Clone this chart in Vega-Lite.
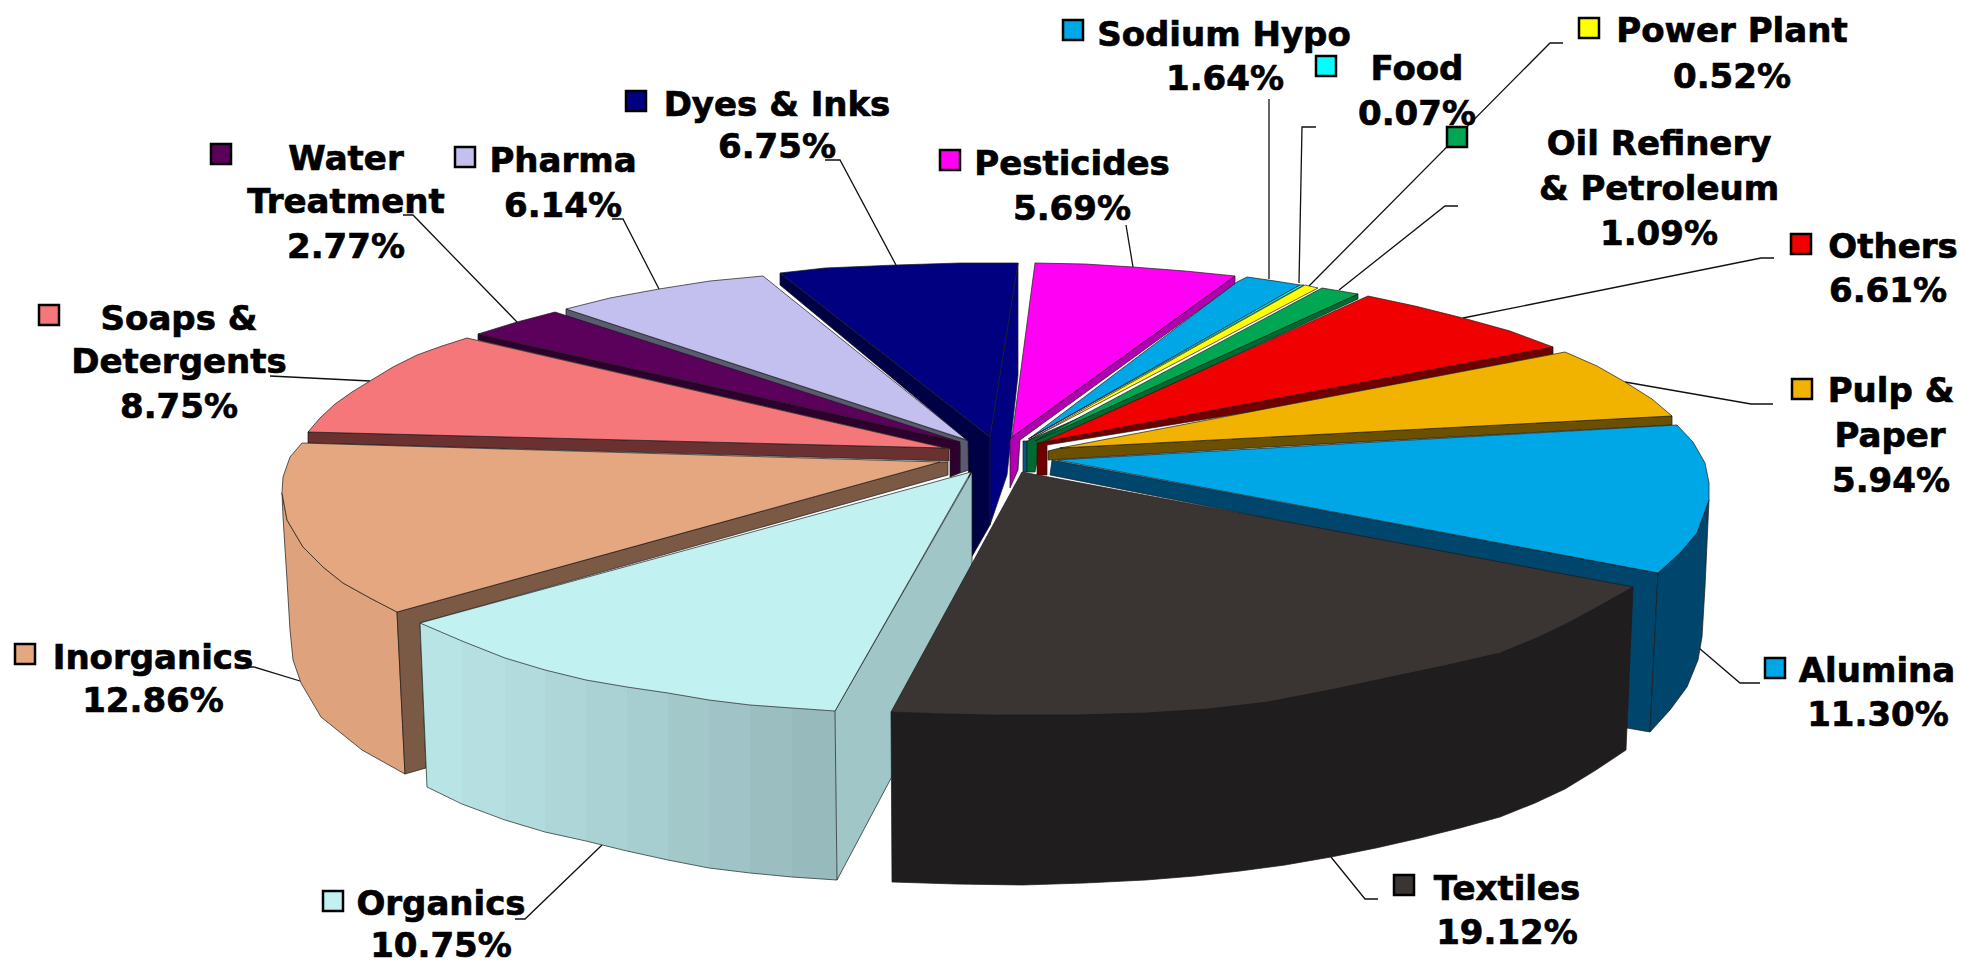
{"$schema":"https://vega.github.io/schema/vega-lite/v6.json","width":1961,"height":965,"padding":0,"autosize":"none","background":"white","view":{"stroke":null},
"datasets":{
"back":[
{"part":"Pharma wall","i":1,"x":566,"y":309},{"part":"Pharma wall","i":2,"x":566,"y":316},{"part":"Pharma wall","i":3,"x":960,"y":445},{"part":"Pharma wall","i":4,"x":960,"y":473},{"part":"Pharma wall","i":5,"x":969,"y":470},{"part":"Pharma wall","i":6,"x":969,"y":441},
{"part":"Pharma top","i":1,"x":566,"y":309},{"part":"Pharma top","i":2,"x":610,"y":298},{"part":"Pharma top","i":3,"x":659,"y":289},{"part":"Pharma top","i":4,"x":710,"y":281},{"part":"Pharma top","i":5,"x":763,"y":276},{"part":"Pharma top","i":6,"x":967,"y":440},
{"part":"Water wall","i":1,"x":478,"y":334},{"part":"Water wall","i":2,"x":478,"y":340},{"part":"Water wall","i":3,"x":950,"y":449},{"part":"Water wall","i":4,"x":950,"y":477},{"part":"Water wall","i":5,"x":960,"y":473},{"part":"Water wall","i":6,"x":960,"y":442},
{"part":"Water top","i":1,"x":478,"y":334},{"part":"Water top","i":2,"x":517,"y":322},{"part":"Water top","i":3,"x":555,"y":312},{"part":"Water top","i":4,"x":960,"y":442},
{"part":"Soaps wall","i":1,"x":308,"y":432},{"part":"Soaps wall","i":2,"x":308,"y":443},{"part":"Soaps wall","i":3,"x":949,"y":461},{"part":"Soaps wall","i":4,"x":949,"y":448},
{"part":"Soaps top","i":1,"x":308,"y":432},{"part":"Soaps top","i":2,"x":320,"y":418},{"part":"Soaps top","i":3,"x":335,"y":404},{"part":"Soaps top","i":4,"x":352,"y":392},{"part":"Soaps top","i":5,"x":370,"y":381},{"part":"Soaps top","i":6,"x":393,"y":367},{"part":"Soaps top","i":7,"x":417,"y":355},{"part":"Soaps top","i":8,"x":442,"y":346},{"part":"Soaps top","i":9,"x":467,"y":338},{"part":"Soaps top","i":10,"x":945,"y":448},
{"part":"Dyes left wall","i":1,"x":780,"y":273},{"part":"Dyes left wall","i":2,"x":780,"y":285},{"part":"Dyes left wall","i":3,"x":968,"y":441},{"part":"Dyes left wall","i":4,"x":970,"y":560},{"part":"Dyes left wall","i":5,"x":990,"y":525},{"part":"Dyes left wall","i":6,"x":990,"y":437},
{"part":"Dyes right wall","i":1,"x":1018,"y":263},{"part":"Dyes right wall","i":2,"x":990,"y":437},{"part":"Dyes right wall","i":3,"x":990,"y":525},{"part":"Dyes right wall","i":4,"x":1007,"y":475},{"part":"Dyes right wall","i":5,"x":1018,"y":375},
{"part":"Dyes top","i":1,"x":780,"y":273},{"part":"Dyes top","i":2,"x":825,"y":268},{"part":"Dyes top","i":3,"x":896,"y":265},{"part":"Dyes top","i":4,"x":960,"y":263},{"part":"Dyes top","i":5,"x":1018,"y":263},{"part":"Dyes top","i":6,"x":990,"y":437},
{"part":"Pesticides wall","i":1,"x":1235,"y":276},{"part":"Pesticides wall","i":2,"x":1235,"y":284},{"part":"Pesticides wall","i":3,"x":1020,"y":440},{"part":"Pesticides wall","i":4,"x":1018,"y":470},{"part":"Pesticides wall","i":5,"x":1010,"y":488},{"part":"Pesticides wall","i":6,"x":1010,"y":440},{"part":"Pesticides wall","i":7,"x":1012,"y":437},
{"part":"Pesticides top","i":1,"x":1035,"y":263},{"part":"Pesticides top","i":2,"x":1085,"y":264},{"part":"Pesticides top","i":3,"x":1133,"y":267},{"part":"Pesticides top","i":4,"x":1185,"y":271},{"part":"Pesticides top","i":5,"x":1235,"y":276},{"part":"Pesticides top","i":6,"x":1012,"y":437},
{"part":"Sodium wall","i":1,"x":1023,"y":441},{"part":"Sodium wall","i":2,"x":1023,"y":472},{"part":"Sodium wall","i":3,"x":1027,"y":472},{"part":"Sodium wall","i":4,"x":1027,"y":441},
{"part":"Sodium top","i":1,"x":1237,"y":282},{"part":"Sodium top","i":2,"x":1247,"y":277},{"part":"Sodium top","i":3,"x":1275,"y":281},{"part":"Sodium top","i":4,"x":1300,"y":285},{"part":"Sodium top","i":5,"x":1030,"y":438},
{"part":"Food top","i":1,"x":1300,"y":285},{"part":"Food top","i":2,"x":1304,"y":285},{"part":"Food top","i":3,"x":1028,"y":439},
{"part":"Power top","i":1,"x":1305,"y":285},{"part":"Power top","i":2,"x":1318,"y":288},{"part":"Power top","i":3,"x":1029,"y":440},
{"part":"Oil wall","i":1,"x":1358,"y":294},{"part":"Oil wall","i":2,"x":1358,"y":299},{"part":"Oil wall","i":3,"x":1040,"y":445},{"part":"Oil wall","i":4,"x":1035,"y":472},{"part":"Oil wall","i":5,"x":1027,"y":472},{"part":"Oil wall","i":6,"x":1027,"y":441},
{"part":"Oil top","i":1,"x":1322,"y":288},{"part":"Oil top","i":2,"x":1340,"y":291},{"part":"Oil top","i":3,"x":1358,"y":294},{"part":"Oil top","i":4,"x":1035,"y":441},
{"part":"Others wall","i":1,"x":1553,"y":347},{"part":"Others wall","i":2,"x":1553,"y":354},{"part":"Others wall","i":3,"x":1250,"y":412},{"part":"Others wall","i":4,"x":1047,"y":445},{"part":"Others wall","i":5,"x":1047,"y":475},{"part":"Others wall","i":6,"x":1037,"y":475},{"part":"Others wall","i":7,"x":1037,"y":443},
{"part":"Others top","i":1,"x":1368,"y":296},{"part":"Others top","i":2,"x":1415,"y":306},{"part":"Others top","i":3,"x":1463,"y":318},{"part":"Others top","i":4,"x":1510,"y":331},{"part":"Others top","i":5,"x":1553,"y":347},{"part":"Others top","i":6,"x":1043,"y":442},
{"part":"Pulp wall","i":1,"x":1672,"y":416},{"part":"Pulp wall","i":2,"x":1672,"y":425},{"part":"Pulp wall","i":3,"x":1250,"y":448},{"part":"Pulp wall","i":4,"x":1048,"y":460},{"part":"Pulp wall","i":5,"x":1048,"y":451},{"part":"Pulp wall","i":6,"x":1060,"y":448},
{"part":"Pulp top","i":1,"x":1565,"y":352},{"part":"Pulp top","i":2,"x":1597,"y":366},{"part":"Pulp top","i":3,"x":1625,"y":382},{"part":"Pulp top","i":4,"x":1652,"y":399},{"part":"Pulp top","i":5,"x":1672,"y":416},{"part":"Pulp top","i":6,"x":1060,"y":448},
{"part":"Inorganics wall","i":1,"x":282,"y":493},{"part":"Inorganics wall","i":2,"x":283,"y":517},{"part":"Inorganics wall","i":3,"x":287,"y":580},{"part":"Inorganics wall","i":4,"x":290,"y":630},{"part":"Inorganics wall","i":5,"x":293,"y":660},{"part":"Inorganics wall","i":6,"x":301,"y":683},{"part":"Inorganics wall","i":7,"x":321,"y":717},{"part":"Inorganics wall","i":8,"x":362,"y":750},{"part":"Inorganics wall","i":9,"x":405,"y":774},{"part":"Inorganics wall","i":10,"x":397,"y":612},{"part":"Inorganics wall","i":11,"x":370,"y":598},{"part":"Inorganics wall","i":12,"x":343,"y":583},{"part":"Inorganics wall","i":13,"x":323,"y":567},{"part":"Inorganics wall","i":14,"x":303,"y":547},{"part":"Inorganics wall","i":15,"x":287,"y":520},
{"part":"Inorganics side","i":1,"x":397,"y":612},{"part":"Inorganics side","i":2,"x":405,"y":774},{"part":"Inorganics side","i":3,"x":426,"y":768},{"part":"Inorganics side","i":4,"x":420,"y":623},{"part":"Inorganics side","i":5,"x":948,"y":475},{"part":"Inorganics side","i":6,"x":948,"y":462},{"part":"Inorganics side","i":7,"x":940,"y":462},
{"part":"Inorganics top","i":1,"x":302,"y":443},{"part":"Inorganics top","i":2,"x":290,"y":457},{"part":"Inorganics top","i":3,"x":283,"y":477},{"part":"Inorganics top","i":4,"x":282,"y":493},{"part":"Inorganics top","i":5,"x":287,"y":520},{"part":"Inorganics top","i":6,"x":303,"y":547},{"part":"Inorganics top","i":7,"x":323,"y":567},{"part":"Inorganics top","i":8,"x":343,"y":583},{"part":"Inorganics top","i":9,"x":370,"y":598},{"part":"Inorganics top","i":10,"x":397,"y":612},{"part":"Inorganics top","i":11,"x":940,"y":462}
],
"strips":[
{"part":"Organics wall 1","i":1,"x":420,"y":623},{"part":"Organics wall 1","i":2,"x":463,"y":641},{"part":"Organics wall 1","i":3,"x":463,"y":804},{"part":"Organics wall 1","i":4,"x":427,"y":787},
{"part":"Organics wall 2","i":1,"x":462,"y":641},{"part":"Organics wall 2","i":2,"x":506,"y":658},{"part":"Organics wall 2","i":3,"x":506,"y":820},{"part":"Organics wall 2","i":4,"x":462,"y":804},
{"part":"Organics wall 3","i":1,"x":505,"y":658},{"part":"Organics wall 3","i":2,"x":546,"y":670},{"part":"Organics wall 3","i":3,"x":546,"y":832},{"part":"Organics wall 3","i":4,"x":505,"y":820},
{"part":"Organics wall 4","i":1,"x":545,"y":670},{"part":"Organics wall 4","i":2,"x":587,"y":680},{"part":"Organics wall 4","i":3,"x":587,"y":841},{"part":"Organics wall 4","i":4,"x":545,"y":832},
{"part":"Organics wall 5","i":1,"x":586,"y":680},{"part":"Organics wall 5","i":2,"x":628,"y":687},{"part":"Organics wall 5","i":3,"x":628,"y":851},{"part":"Organics wall 5","i":4,"x":586,"y":841},
{"part":"Organics wall 6","i":1,"x":627,"y":687},{"part":"Organics wall 6","i":2,"x":669,"y":693},{"part":"Organics wall 6","i":3,"x":669,"y":860},{"part":"Organics wall 6","i":4,"x":627,"y":851},
{"part":"Organics wall 7","i":1,"x":668,"y":693},{"part":"Organics wall 7","i":2,"x":710,"y":700},{"part":"Organics wall 7","i":3,"x":710,"y":868},{"part":"Organics wall 7","i":4,"x":668,"y":860},
{"part":"Organics wall 8","i":1,"x":709,"y":700},{"part":"Organics wall 8","i":2,"x":751,"y":705},{"part":"Organics wall 8","i":3,"x":751,"y":873},{"part":"Organics wall 8","i":4,"x":709,"y":868},
{"part":"Organics wall 9","i":1,"x":750,"y":705},{"part":"Organics wall 9","i":2,"x":793,"y":708},{"part":"Organics wall 9","i":3,"x":793,"y":877},{"part":"Organics wall 9","i":4,"x":750,"y":873},
{"part":"Organics wall 10","i":1,"x":792,"y":708},{"part":"Organics wall 10","i":2,"x":835,"y":711},{"part":"Organics wall 10","i":3,"x":837,"y":880},{"part":"Organics wall 10","i":4,"x":792,"y":877}
],
"front":[
{"part":"Organics side","i":1,"x":835,"y":711},{"part":"Organics side","i":2,"x":837,"y":880},{"part":"Organics side","i":3,"x":972,"y":626},{"part":"Organics side","i":4,"x":972,"y":472},
{"part":"Organics top","i":1,"x":420,"y":623},{"part":"Organics top","i":2,"x":462,"y":641},{"part":"Organics top","i":3,"x":505,"y":658},{"part":"Organics top","i":4,"x":545,"y":670},{"part":"Organics top","i":5,"x":586,"y":680},{"part":"Organics top","i":6,"x":627,"y":687},{"part":"Organics top","i":7,"x":668,"y":693},{"part":"Organics top","i":8,"x":709,"y":700},{"part":"Organics top","i":9,"x":750,"y":705},{"part":"Organics top","i":10,"x":792,"y":708},{"part":"Organics top","i":11,"x":835,"y":711},{"part":"Organics top","i":12,"x":971,"y":472},
{"part":"Alumina inner wall","i":1,"x":1052,"y":460},{"part":"Alumina inner wall","i":2,"x":1050,"y":475},{"part":"Alumina inner wall","i":3,"x":1630,"y":590},{"part":"Alumina inner wall","i":4,"x":1627,"y":728},{"part":"Alumina inner wall","i":5,"x":1650,"y":732},{"part":"Alumina inner wall","i":6,"x":1658,"y":573},
{"part":"Alumina outer wall","i":1,"x":1658,"y":573},{"part":"Alumina outer wall","i":2,"x":1650,"y":732},{"part":"Alumina outer wall","i":3,"x":1670,"y":710},{"part":"Alumina outer wall","i":4,"x":1687,"y":687},{"part":"Alumina outer wall","i":5,"x":1698,"y":660},{"part":"Alumina outer wall","i":6,"x":1702,"y":637},{"part":"Alumina outer wall","i":7,"x":1705,"y":587},{"part":"Alumina outer wall","i":8,"x":1709,"y":500},{"part":"Alumina outer wall","i":9,"x":1697,"y":533},{"part":"Alumina outer wall","i":10,"x":1680,"y":553},
{"part":"Alumina top","i":1,"x":1057,"y":460},{"part":"Alumina top","i":2,"x":1677,"y":425},{"part":"Alumina top","i":3,"x":1693,"y":442},{"part":"Alumina top","i":4,"x":1705,"y":463},{"part":"Alumina top","i":5,"x":1709,"y":483},{"part":"Alumina top","i":6,"x":1709,"y":500},{"part":"Alumina top","i":7,"x":1697,"y":533},{"part":"Alumina top","i":8,"x":1680,"y":553},{"part":"Alumina top","i":9,"x":1658,"y":573},
{"part":"Textiles wall","i":1,"x":891,"y":712},{"part":"Textiles wall","i":2,"x":892,"y":882},{"part":"Textiles wall","i":3,"x":955,"y":884},{"part":"Textiles wall","i":4,"x":1023,"y":885},{"part":"Textiles wall","i":5,"x":1085,"y":883},{"part":"Textiles wall","i":6,"x":1146,"y":880},{"part":"Textiles wall","i":7,"x":1195,"y":876},{"part":"Textiles wall","i":8,"x":1240,"y":871},{"part":"Textiles wall","i":9,"x":1285,"y":865},{"part":"Textiles wall","i":10,"x":1331,"y":857},{"part":"Textiles wall","i":11,"x":1376,"y":848},{"part":"Textiles wall","i":12,"x":1420,"y":838},{"part":"Textiles wall","i":13,"x":1460,"y":828},{"part":"Textiles wall","i":14,"x":1500,"y":817},{"part":"Textiles wall","i":15,"x":1535,"y":803},{"part":"Textiles wall","i":16,"x":1565,"y":789},{"part":"Textiles wall","i":17,"x":1596,"y":770},{"part":"Textiles wall","i":18,"x":1626,"y":750},{"part":"Textiles wall","i":19,"x":1633,"y":587},{"part":"Textiles wall","i":20,"x":1500,"y":653},{"part":"Textiles wall","i":21,"x":1003,"y":715},
{"part":"Textiles top","i":1,"x":1022,"y":472},{"part":"Textiles top","i":2,"x":1633,"y":587},{"part":"Textiles top","i":3,"x":1603,"y":604},{"part":"Textiles top","i":4,"x":1570,"y":622},{"part":"Textiles top","i":5,"x":1537,"y":638},{"part":"Textiles top","i":6,"x":1500,"y":653},{"part":"Textiles top","i":7,"x":1448,"y":665},{"part":"Textiles top","i":8,"x":1391,"y":677},{"part":"Textiles top","i":9,"x":1330,"y":690},{"part":"Textiles top","i":10,"x":1268,"y":702},{"part":"Textiles top","i":11,"x":1208,"y":709},{"part":"Textiles top","i":12,"x":1146,"y":713},{"part":"Textiles top","i":13,"x":1075,"y":715},{"part":"Textiles top","i":14,"x":1003,"y":715},{"part":"Textiles top","i":15,"x":945,"y":714},{"part":"Textiles top","i":16,"x":891,"y":712}
],
"rim":[
{"part":"rim","i":1,"x":420,"y":623},{"part":"rim","i":2,"x":427,"y":787},{"part":"rim","i":3,"x":462,"y":804},{"part":"rim","i":4,"x":505,"y":820},{"part":"rim","i":5,"x":545,"y":832},{"part":"rim","i":6,"x":586,"y":841},{"part":"rim","i":7,"x":627,"y":851},{"part":"rim","i":8,"x":668,"y":860},{"part":"rim","i":9,"x":709,"y":868},{"part":"rim","i":10,"x":750,"y":873},{"part":"rim","i":11,"x":792,"y":877},{"part":"rim","i":12,"x":837,"y":880}
],
"leaders":[
{"slice":"Sodium Hypo","i":1,"x":1269,"y":279},{"slice":"Sodium Hypo","i":2,"x":1269,"y":99},
{"slice":"Food","i":1,"x":1299,"y":283},{"slice":"Food","i":2,"x":1302,"y":127},{"slice":"Food","i":3,"x":1316,"y":127},
{"slice":"Power Plant","i":1,"x":1309,"y":286},{"slice":"Power Plant","i":2,"x":1550,"y":43},{"slice":"Power Plant","i":3,"x":1563,"y":43},
{"slice":"Oil","i":1,"x":1339,"y":290},{"slice":"Oil","i":2,"x":1445,"y":206},{"slice":"Oil","i":3,"x":1458,"y":206},
{"slice":"Others","i":1,"x":1463,"y":318},{"slice":"Others","i":2,"x":1761,"y":258},{"slice":"Others","i":3,"x":1774,"y":258},
{"slice":"Pulp","i":1,"x":1625,"y":382},{"slice":"Pulp","i":2,"x":1751,"y":404},{"slice":"Pulp","i":3,"x":1773,"y":404},
{"slice":"Alumina","i":1,"x":1699,"y":648},{"slice":"Alumina","i":2,"x":1740,"y":683},{"slice":"Alumina","i":3,"x":1760,"y":683},
{"slice":"Textiles","i":1,"x":1331,"y":857},{"slice":"Textiles","i":2,"x":1365,"y":899},{"slice":"Textiles","i":3,"x":1378,"y":899},
{"slice":"Organics","i":1,"x":602,"y":845},{"slice":"Organics","i":2,"x":525,"y":919},{"slice":"Organics","i":3,"x":515,"y":919},
{"slice":"Inorganics","i":1,"x":300,"y":681},{"slice":"Inorganics","i":2,"x":254,"y":667},{"slice":"Inorganics","i":3,"x":245,"y":667},
{"slice":"Soaps","i":1,"x":370,"y":381},{"slice":"Soaps","i":2,"x":270,"y":376},
{"slice":"Water","i":1,"x":517,"y":322},{"slice":"Water","i":2,"x":413,"y":215},{"slice":"Water","i":3,"x":403,"y":215},
{"slice":"Pharma","i":1,"x":659,"y":289},{"slice":"Pharma","i":2,"x":623,"y":219},{"slice":"Pharma","i":3,"x":612,"y":219},
{"slice":"Dyes","i":1,"x":896,"y":265},{"slice":"Dyes","i":2,"x":840,"y":160},{"slice":"Dyes","i":3,"x":825,"y":160},
{"slice":"Pesticides","i":1,"x":1133,"y":267},{"slice":"Pesticides","i":2,"x":1126,"y":225}
],
"labels":[
{"text":"Sodium Hypo","x":1224,"y":34},{"text":"1.64%","x":1225,"y":78},
{"text":"Food","x":1417,"y":68},{"text":"0.07%","x":1417,"y":113},
{"text":"Power Plant","x":1732,"y":30},{"text":"0.52%","x":1732,"y":76},
{"text":"Oil Refinery","x":1659,"y":143},{"text":"& Petroleum","x":1659,"y":188},{"text":"1.09%","x":1659,"y":233},
{"text":"Others","x":1893,"y":246},{"text":"6.61%","x":1888,"y":290},
{"text":"Pulp &","x":1891,"y":390},{"text":"Paper","x":1890,"y":435},{"text":"5.94%","x":1891,"y":480},
{"text":"Alumina","x":1877,"y":670},{"text":"11.30%","x":1878,"y":714},
{"text":"Textiles","x":1507,"y":888},{"text":"19.12%","x":1507,"y":932},
{"text":"Organics","x":441,"y":903},{"text":"10.75%","x":441,"y":945},
{"text":"Inorganics","x":153,"y":657},{"text":"12.86%","x":153,"y":700},
{"text":"Soaps &","x":179,"y":318},{"text":"Detergents","x":179,"y":361},{"text":"8.75%","x":179,"y":406},
{"text":"Water","x":346,"y":158},{"text":"Treatment","x":346,"y":201},{"text":"2.77%","x":346,"y":246},
{"text":"Pharma","x":563,"y":160},{"text":"6.14%","x":563,"y":205},
{"text":"Dyes & Inks","x":777,"y":104},{"text":"6.75%","x":777,"y":146},
{"text":"Pesticides","x":1072,"y":163},{"text":"5.69%","x":1072,"y":208}
],
"keys":[
{"part":"Sodium top","x":1073,"y":30},{"part":"Food top","x":1326,"y":66},{"part":"Power top","x":1589,"y":28},{"part":"Oil top","x":1457,"y":137},{"part":"Others top","x":1801,"y":244},{"part":"Pulp top","x":1802,"y":389},{"part":"Alumina top","x":1775,"y":668},{"part":"Textiles top","x":1404,"y":885},{"part":"Organics top","x":333,"y":901},{"part":"Inorganics top","x":25,"y":654},{"part":"Soaps top","x":49,"y":315},{"part":"Water top","x":221,"y":154},{"part":"Pharma top","x":465,"y":157},{"part":"Dyes top","x":636,"y":101},{"part":"Pesticides top","x":950,"y":160}
]
},
"encoding":{
"x":{"field":"x","type":"quantitative","axis":null,"scale":{"domain":[0,1961],"nice":false,"zero":false}},
"y":{"field":"y","type":"quantitative","axis":null,"scale":{"domain":[0,965],"reverse":true,"nice":false,"zero":false}}
},
"layer":[
{"data":{"name":"leaders"},"mark":{"type":"line","stroke":"#111111","strokeWidth":1.3},"encoding":{"detail":{"field":"slice"},"order":{"field":"i"}}},
{"data":{"name":"back"},"mark":{"type":"line","filled":true,"interpolate":"linear-closed","stroke":"#1a1a1a","strokeWidth":0.7,"strokeJoin":"round"},"encoding":{"color":{"field":"part","type":"nominal","legend":null,"scale":{"domain":["Pharma wall","Pharma top","Water wall","Water top","Soaps wall","Soaps top","Dyes left wall","Dyes right wall","Dyes top","Pesticides wall","Pesticides top","Sodium wall","Sodium top","Food top","Power top","Oil wall","Oil top","Others wall","Others top","Pulp wall","Pulp top","Inorganics wall","Inorganics side","Inorganics top","Organics wall 1","Organics wall 2","Organics wall 3","Organics wall 4","Organics wall 5","Organics wall 6","Organics wall 7","Organics wall 8","Organics wall 9","Organics wall 10","Organics side","Organics top","Alumina inner wall","Alumina outer wall","Alumina top","Textiles wall","Textiles top"],"range":["#5a5a70","#c3c0ef","#2d002d","#5b005b","#6b3030","#f5777a","#000045","#000080","#000080","#b000b0","#ff00f5","#005a80","#00a7e6","#00ffff","#ffff00","#006a30","#00a651","#700000","#f00000","#6b5000","#f2b300","#dea27c","#7a5a44","#e5a77f","#b9e4e5","#b5dfe1","#b1dbdc","#aed6d8","#aad1d3","#a6cdcf","#a2c8ca","#9fc3c6","#9bbfc1","#97babd","#a0c6c8","#c1f1f1","#00456b","#00456b","#00a7e6","#201d1e","#3a3533"]}},"order":{"field":"i"}}},
{"data":{"name":"strips"},"mark":{"type":"line","filled":true,"interpolate":"linear-closed"},"encoding":{"color":{"field":"part","type":"nominal","legend":null},"order":{"field":"i"}}},
{"data":{"name":"rim"},"mark":{"type":"line","stroke":"#2a3a3a","strokeWidth":0.8},"encoding":{"order":{"field":"i"}}},
{"data":{"name":"front"},"mark":{"type":"line","filled":true,"interpolate":"linear-closed","stroke":"#1a1a1a","strokeWidth":0.7,"strokeJoin":"round"},"encoding":{"color":{"field":"part","type":"nominal","legend":null},"order":{"field":"i"}}},
{"data":{"name":"labels"},"mark":{"type":"text","font":"DejaVu Sans","fontWeight":"bold","fontSize":34,"align":"center","baseline":"middle","dy":2,"color":"#000000","stroke":"#000000","strokeWidth":0.7},"encoding":{"text":{"field":"text"}}},
{"data":{"name":"keys"},"mark":{"type":"point","shape":"square","filled":true,"size":400,"stroke":"#000000","strokeWidth":2.5,"opacity":1},"encoding":{"color":{"field":"part","type":"nominal","legend":null}}}
]}
